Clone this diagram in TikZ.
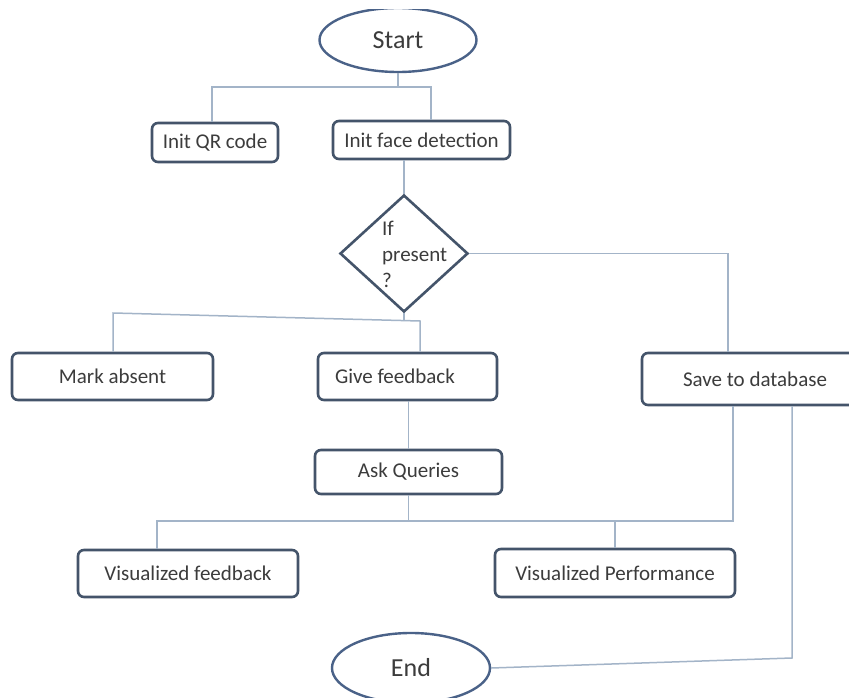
\documentclass[tikz,border=0pt]{standalone}
\usepackage{fontspec}
\setmainfont{Carlito}
\usetikzlibrary{shapes.geometric}

\definecolor{boxline}{HTML}{44546A}
\definecolor{ovalline}{HTML}{4A6288}
\definecolor{linkline}{HTML}{A3B4C8}
\definecolor{labeltext}{HTML}{3C3C3C}

\tikzset{
    procbox/.style={draw=boxline, line width=2.6pt, rounded corners=6pt, fill=white,
        inner sep=0pt, text=labeltext, font=\fontsize{21}{25}\selectfont},
    terminal/.style={ellipse, draw=ovalline, line width=2.4pt, fill=white,
        inner sep=0pt, text=labeltext, font=\fontsize{26}{30}\selectfont},
    decision/.style={diamond, draw=boxline, line width=2.6pt, fill=white,
        inner sep=0pt, minimum width=128pt, minimum height=117pt},
    dectext/.style={anchor=west, align=left, inner sep=0pt, text=labeltext,
        font=\fontsize{21}{26}\selectfont},
    link/.style={draw=linkline, line width=1.5pt},
}

\begin{document}
\begin{tikzpicture}[x=1pt, y=-1pt]
    \useasboundingbox (0,0) rectangle (849,698);
    \fill[white] (0,0) rectangle (849,698);
    \clip (0,10) rectangle (849,698);

    \node[terminal, minimum width=157pt, minimum height=64pt] (start) at (398,40) {Start};

    \node[procbox, minimum width=126pt, minimum height=39pt] (qr) at (215,142.5) {Init QR code};
    \node[procbox, minimum width=177pt, minimum height=38pt] (face) at (421.5,140) {Init face detection};

    \node[decision] (dec) at (404,253.5) {};
    \node[dectext] (ifpresent) at (382,254) {If\\present\\?};

    \node[procbox, minimum width=201pt, minimum height=47pt] (absent) at (112.5,376.5) {Mark absent};
    \node[procbox, minimum width=179pt, minimum height=47pt] (give) at (407.5,376.5) {\makebox[145pt][l]{Give feedback}};
    \node[procbox, minimum width=226pt, minimum height=52pt] (save) at (755,379) {Save to database};

    \node[procbox, minimum width=187pt, minimum height=44pt] (ask) at (408.5,472) {Ask Queries};

    \node[procbox, minimum width=220pt, minimum height=47pt] (visfb) at (188,573.5) {Visualized feedback};
    \node[procbox, minimum width=240pt, minimum height=48pt] (visperf) at (615,573) {Visualized Performance};

    \node[terminal, minimum width=158pt, minimum height=70pt] (end) at (411,668) {End};

    % start to the two init boxes
    \coordinate (startsplit) at (398,87);
    \draw[link] (start.south) -- (startsplit);
    \draw[link] ([xshift=-3pt]qr.north) |- (startsplit) -| ([xshift=9.5pt]face.north);

    \draw[link] (dec.north) -- (dec.north |- face.south);

    % present: go to database
    \coordinate (savein) at (728,253.5);
    \draw[link] (dec.east) -- (savein) -- (savein |- save.north);

    % split under the decision
    \coordinate (leftbend) at (113,313);
    \coordinate (rightbend) at (420,321);
    \draw[link] (dec.south) -- (dec.south |- rightbend);
    \draw[link] (leftbend |- absent.north) -- (leftbend) -- (rightbend) -- (rightbend |- give.north);

    \draw[link] (ask.north |- give.south) -- (ask.north);

    % split under the queries
    \coordinate (saveleft) at (733,521);
    \draw[link] (ask.south) -- (ask.south |- saveleft);
    \draw[link] ([xshift=-31pt]visfb.north) |- (saveleft) -- (saveleft |- save.south);
    \draw[link] (visperf.north) -- (visperf.north |- saveleft);

    % back to the end
    \coordinate (saveright) at (792,658);
    \draw[link] (saveright |- save.south) -- (saveright) -- (end.east);
\end{tikzpicture}
\end{document}
